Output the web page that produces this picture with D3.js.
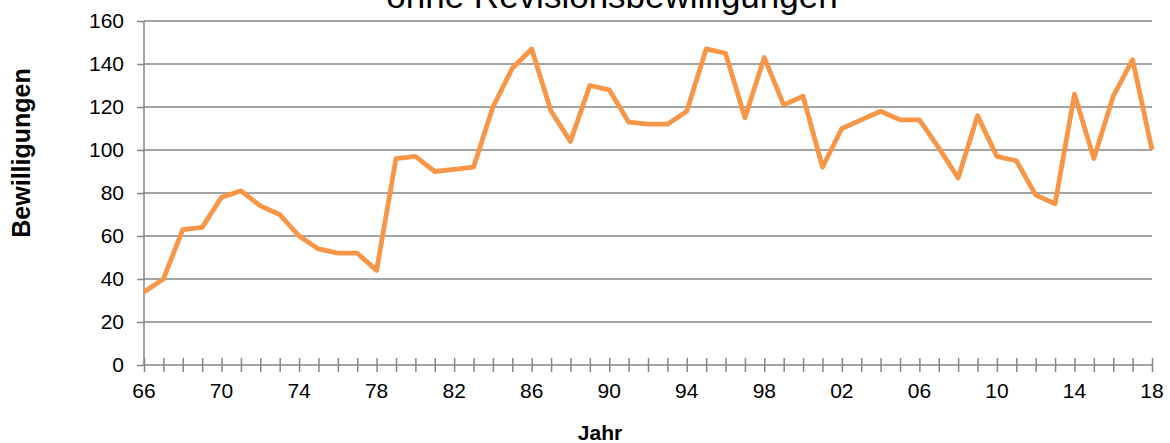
<!DOCTYPE html>
<html>
<head>
<meta charset="utf-8">
<script src="https://cdn.jsdelivr.net/npm/d3@7"></script>
<style>
	body { margin: 0; background: #fff; }
	text { font-family: "Liberation Sans", Arial, sans-serif; fill: #000; }
</style>
</head>
<body>
<svg id="chart" width="1170" height="443"></svg>
<script>
// jahre 1966 - 2018
let years = d3.range(1966, 2019);
let bewilligungen = [
	34, 40, 63, 64, 78, 81, 74, 70, 60, 54, 52, 52, 44, 96, 97, 90, 91, 92, 120, 138,
	147, 118, 104, 130, 128, 113, 112, 112, 118, 147, 145, 115, 143, 121, 125, 92, 110, 114, 118, 114,
	114, 101, 87, 116, 97, 95, 79, 75, 126, 96, 125, 142, 100
];
let yTicks = [0, 20, 40, 60, 80, 100, 120, 140, 160];
let labelYears = years.filter((y) => (y - 1966) % 4 === 0);

let svg = d3.select("#chart");
let margin = { left: 144, right: 18, top: 21, bottom: 78 };
let w = 1170 - margin.left - margin.right;
let h = 443 - margin.top - margin.bottom;

let x = d3.scaleLinear().domain([1966, 2018]).range([0, w]);
let y = d3.scaleLinear().domain([0, 160]).range([h, 0]);

let g = svg.append("g").attr("transform", `translate(${margin.left}, ${margin.top})`);

// gridlines
g.selectAll("line.grid")
	.data(yTicks.filter((d) => d > 0))
	.join("line")
	.classed("grid", true)
	.attr("x1", 0)
	.attr("x2", w)
	.attr("y1", (d) => y(d))
	.attr("y2", (d) => y(d))
	.attr("stroke", "#868686")
	.attr("stroke-width", 1.5);

// y axis
let yAxis = g.append("g").call(d3.axisLeft(y).tickValues(yTicks).tickSize(7).tickPadding(13));
yAxis.select(".domain").attr("stroke", "#868686").attr("stroke-width", 1.5).attr("d", `M0,${h}V0`);
yAxis.selectAll(".tick line").attr("stroke", "#868686").attr("stroke-width", 1.5);
yAxis.selectAll("text").attr("font-size", 21).attr("fill", "#000")
	.style("font-family", "Liberation Sans, Arial, sans-serif");

// x axis, ticks cross the line
let xAxis = g.append("g")
	.attr("transform", `translate(0, ${h})`)
	.call(d3.axisBottom(x).tickValues(years).tickSize(7).tickFormat(""));
xAxis.select(".domain").attr("stroke", "#868686").attr("stroke-width", 1.5).attr("d", `M0,0H${w}`);
xAxis.selectAll(".tick line").attr("stroke", "#868686").attr("stroke-width", 1.5).attr("y1", -7);

g.append("g")
	.selectAll("text")
	.data(labelYears)
	.join("text")
	.attr("x", (d) => x(d))
	.attr("y", h + 33)
	.attr("text-anchor", "middle")
	.attr("font-size", 21)
	.text((d) => String(d % 100).padStart(2, "0"));

// line
let lineFn = d3.line()
	.x((d, i) => x(years[i]))
	.y((d) => y(d));

g.append("path")
	.datum(bewilligungen)
	.attr("d", lineFn)
	.attr("fill", "none")
	.attr("stroke", "#F79646")
	.attr("stroke-width", 4.8)
	.attr("stroke-linejoin", "round");

// titles
svg.append("text")
	.attr("x", 612)
	.attr("y", 8)
	.attr("text-anchor", "middle")
	.attr("font-size", 35)
	.text("ohne Revisionsbewilligungen");

svg.append("text")
	.attr("transform", "translate(30, 153) rotate(-90)")
	.attr("text-anchor", "middle")
	.attr("font-size", 25)
	.attr("font-weight", "bold")
	.text("Bewilligungen");

svg.append("text")
	.attr("x", 600)
	.attr("y", 440)
	.attr("text-anchor", "middle")
	.attr("font-size", 21)
	.attr("font-weight", "bold")
	.text("Jahr");
</script>
</body>
</html>
